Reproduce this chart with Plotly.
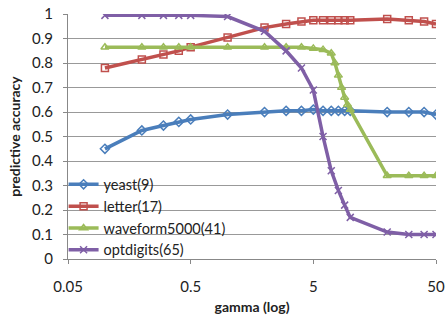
import plotly.graph_objects as go

gamma = [0.1, 0.2, 0.3, 0.4, 0.5, 1, 2, 3, 4, 5, 6, 7, 8, 9, 10, 20, 30, 40, 50]
yeast = [0.45, 0.525, 0.545, 0.56, 0.57, 0.59, 0.60, 0.605, 0.605, 0.61, 0.605, 0.605, 0.605, 0.605, 0.605, 0.60, 0.60, 0.60, 0.59]
letter = [0.78, 0.815, 0.835, 0.85, 0.865, 0.905, 0.945, 0.96, 0.97, 0.975, 0.975, 0.975, 0.975, 0.975, 0.975, 0.98, 0.975, 0.97, 0.96]

gamma_wave = [0.1, 0.2, 0.3, 0.4, 0.5, 1, 2, 3, 4, 5, 6, 7, 7.5, 8, 8.5, 9, 9.5, 10, 20, 30, 40, 50]
waveform = [0.865, 0.865, 0.865, 0.865, 0.865, 0.865, 0.865, 0.865, 0.865, 0.86, 0.855, 0.84, 0.80, 0.75, 0.70, 0.66, 0.63, 0.61, 0.34, 0.34, 0.34, 0.34]

optdigits = [0.995, 0.995, 0.995, 0.995, 0.995, 0.99, 0.93, 0.85, 0.78, 0.69, 0.50, 0.36, 0.28, 0.22, 0.17, 0.11, 0.10, 0.10, 0.10]

names = ["yeast(9)", "letter(17)", "waveform5000(41)", "optdigits(65)"]
colors = ["#4A7EBB", "#C0504D", "#9BBB59", "#7F5FA6"]
symbols = ["diamond-open", "square-open", "triangle-up-open", "x-thin"]

xticks = [0.05, 0.5, 5, 50]
xticklabels = ["0.05", "0.5", "5", "50"]
yticks = [0, 0.1, 0.2, 0.3, 0.4, 0.5, 0.6, 0.7, 0.8, 0.9, 1]
yticklabels = ["0", "0.1", "0.2", "0.3", "0.4", "0.5", "0.6", "0.7", "0.8", "0.9", "1"]

series = [(gamma, yeast), (gamma, letter), (gamma_wave, waveform), (gamma, optdigits)]

fig = go.Figure()
for (xs, ys), name, c, s in zip(series, names, colors, symbols):
    fig.add_trace(go.Scatter(
        x=xs, y=ys, name=name, mode="lines+markers",
        line=dict(color=c, width=3.5),
        marker=dict(symbol=s, size=7, color=c, line=dict(color=c, width=1.5)),
    ))

fig.update_layout(
    width=448, height=320,
    margin=dict(l=68, r=12, t=14, b=61),
    paper_bgcolor="white", plot_bgcolor="white",
    font=dict(family="Lato, Open Sans, sans-serif", size=15, color="#222"),
    showlegend=True,
    legend=dict(x=-0.012, y=0.37, xanchor="left", yanchor="top",
                bgcolor="rgba(0,0,0,0)", font=dict(size=14.5),
                tracegroupgap=0),
    xaxis=dict(
        type="log", range=[-1.30103, 1.69897],
        tickvals=xticks, ticktext=xticklabels,
        showgrid=False, showline=True, linecolor="#888", linewidth=1,
        ticks="outside", ticklen=4, tickcolor="#888",
        ticklabelstandoff=10, ticklabeloverflow="allow",
        title=dict(text="<b>gamma (log)</b>", font=dict(size=14), standoff=8),
        zeroline=False, automargin=False,
    ),
    yaxis=dict(
        range=[0, 1.0005], tickvals=yticks, ticktext=yticklabels,
        showgrid=True, gridcolor="#999", gridwidth=1,
        showline=True, linecolor="#888", linewidth=1,
        ticks="outside", ticklen=4, tickcolor="#888",
        ticklabelstandoff=7, ticklabeloverflow="allow",
        title=dict(text="<b>predictive accuracy</b>", font=dict(size=14), standoff=8),
        zeroline=False, automargin=False,
    ),
)

fig.write_html(
    "out.html",
    config={"displayModeBar": False},
    post_script="document.body.style.margin='0';document.body.style.overflow='hidden';",
)
